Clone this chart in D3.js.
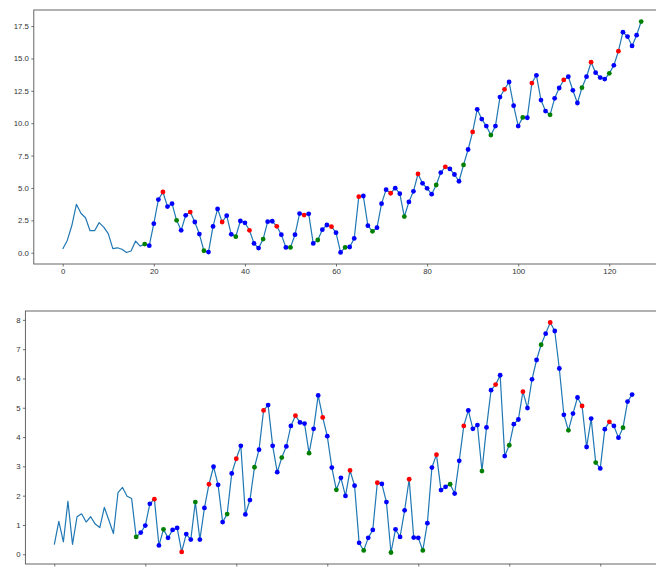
<!DOCTYPE html>
<html>
<head>
<meta charset="utf-8">
<script src="https://cdn.jsdelivr.net/npm/d3@7"></script>
<style>
  body { margin: 0; background: #fff; }
  svg { display: block; }
</style>
</head>
<body>
<script>
// values, index = x position
const topValues = [
  0.28, 0.95, 2.1, 3.74, 3.05, 2.7, 1.7, 1.7, 2.32, 1.98,
  1.47, 0.31, 0.38, 0.27, 0.02, 0.13, 0.9, 0.51, 0.67, 0.54,
  2.24, 4.1, 4.69, 3.56, 3.79, 2.5, 1.73, 2.89, 3.14, 2.37,
  1.44, 0.15, 0.05, 2.03, 3.38, 2.37, 2.86, 1.42, 1.24, 2.45,
  2.31, 1.73, 0.72, 0.36, 1.05, 2.4, 2.43, 2.04, 1.39, 0.41,
  0.41, 1.39, 3.02, 2.91, 3.0, 0.72, 0.98, 1.78, 2.14, 2.01,
  1.55, 0.02, 0.41, 0.44, 1.1, 4.33, 4.38, 2.09, 1.65, 1.93,
  3.79, 4.87, 4.59, 4.98, 4.56, 2.79, 3.92, 4.74, 6.08, 5.36,
  4.97, 4.52, 5.23, 6.19, 6.63, 6.47, 6.04, 5.52, 6.78, 7.97,
  9.33, 11.07, 10.32, 9.78, 9.08, 9.78, 12.02, 12.62, 13.18, 11.35,
  9.78, 10.45, 10.42, 13.1, 13.7, 11.79, 10.94, 10.65, 11.92, 12.72,
  13.34, 13.59, 12.54, 11.56, 12.74, 13.59, 14.71, 13.9, 13.52, 13.41,
  13.85, 14.47, 15.56, 17.03, 16.69, 15.97, 16.8, 17.85
];
const bottomValues = [
  0.33, 1.12, 0.42, 1.81, 0.34, 1.28, 1.38, 1.1, 1.28, 1.03,
  0.91, 1.6, 1.16, 0.71, 2.1, 2.28, 1.98, 1.9, 0.59, 0.74,
  0.98, 1.72, 1.88, 0.3, 0.85, 0.56, 0.83, 0.9, 0.08, 0.69,
  0.5, 1.78, 0.5, 1.58, 2.39, 2.99, 2.37, 1.1, 1.37, 2.76,
  3.26, 3.7, 1.36, 1.85, 2.97, 3.57, 4.91, 5.09, 3.7, 2.8,
  3.3, 3.68, 4.38, 4.73, 4.5, 4.46, 3.45, 4.28, 5.42, 4.67,
  4.03, 2.96, 2.2, 2.61, 1.99, 2.86, 2.34, 0.39, 0.13, 0.56,
  0.83, 2.44, 2.4, 1.78, 0.06, 0.85, 0.59, 1.5, 2.56, 0.57,
  0.56, 0.13, 1.06, 2.96, 3.4, 2.19, 2.3, 2.39, 2.07, 3.19,
  4.38, 4.91, 4.28, 4.41, 2.84, 4.33, 5.6, 5.79, 6.11, 3.35,
  3.72, 4.44, 4.6, 5.55, 4.99, 5.97, 6.63, 7.15, 7.53, 7.91,
  7.62, 6.34, 4.76, 4.23, 4.8, 5.35, 5.06, 3.66, 4.63, 3.13,
  2.93, 4.27, 4.52, 4.38, 3.98, 4.32, 5.21, 5.45
];
const markStart = 18; // first index that gets a dot
const topRed = [22, 28, 35, 41, 47, 53, 59, 65, 72, 78, 84, 90, 97, 103, 110, 116, 122];
const topGreen = [18, 25, 31, 38, 44, 50, 56, 62, 68, 75, 82, 88, 94, 101, 107, 114, 120, 127];
const bottomRed = [22, 28, 34, 40, 46, 53, 59, 65, 71, 78, 84, 90, 97, 103, 109, 116, 122];
const bottomGreen = [18, 24, 31, 38, 44, 50, 56, 62, 68, 74, 81, 87, 94, 100, 107, 113, 119, 125];
const xTicks = [0, 20, 40, 60, 80, 100, 120];
const topYTicks = [0, 2.5, 5, 7.5, 10, 12.5, 15, 17.5];
const bottomYTicks = [0, 1, 2, 3, 4, 5, 6, 7, 8];

const svgWidth = 656;
const svgHeight = 570;
const fontSize = 7.8;

const svg = d3.select("body").append("svg")
            .attr("width", svgWidth)
            .attr("height", svgHeight)
            .style("font-family", "'DejaVu Sans', sans-serif");

// panel boxes (right side runs past the picture, like the original crop)
// bottom panel's x labels fall below the picture, so only the tick marks show
drawPanel(topValues, topRed, topGreen, topYTicks, d3.format(".1f"), true,
          {left: 33.8, right: 670.1, top: 10, bottom: 264});
drawPanel(bottomValues, bottomRed, bottomGreen, bottomYTicks, d3.format("d"), false,
          {left: 25.4, right: 661, top: 311, bottom: 564});

function padded(lo, hi) { // matplotlib style 5% margins
  let m = (hi - lo) * 0.05;
  return [lo - m, hi + m];
}

function drawPanel(values, reds, greens, yTicks, yFmt, xLabels, box) {
  let xScale = d3.scaleLinear().domain(padded(0, values.length - 1)).range([box.left, box.right]);
  let yScale = d3.scaleLinear().domain(padded(d3.min(values), d3.max(values))).range([box.bottom, box.top]);

  let g = svg.append("g");

  let xAxis = d3.axisBottom(xScale).tickValues(xTicks).tickSizeOuter(0).tickSize(2.5).tickPadding(2.4);
  if (!xLabels) xAxis.tickFormat(() => "");
  let yAxis = d3.axisLeft(yScale).tickValues(yTicks).tickFormat(yFmt).tickSizeOuter(0).tickSize(2.5).tickPadding(2.4);

  let gx = g.append("g")
     .attr("transform", "translate(0," + box.bottom + ")")
     .call(xAxis);
  let gy = g.append("g")
     .attr("transform", "translate(" + box.left + ",0)")
     .call(yAxis);
  [gx, gy].forEach(a => {
    a.select(".domain").remove();
    a.selectAll("line").attr("stroke", "#333").attr("stroke-width", 0.7);
    a.selectAll("text").attr("fill", "#333").style("font-size", fontSize + "px");
  });
  if (!xLabels) gx.selectAll("text").remove();

  // line through all points
  const line = d3.line()
               .x((d, i) => xScale(i))
               .y(d => yScale(d));
  g.append("path")
   .datum(values)
   .attr("d", line)
   .attr("fill", "none")
   .attr("stroke", "#1f77b4")
   .attr("stroke-width", 1.2)
   .attr("stroke-linejoin", "round");

  let pts = values.map((v, i) => ({i: i, v: v}))
                  .filter(d => d.i >= markStart);
  g.selectAll("circle.dot")
   .data(pts)
   .enter().append("circle")
   .attr("class", "dot")
   .attr("cx", d => xScale(d.i))
   .attr("cy", d => yScale(d.v))
   .attr("r", 2.4)
   .attr("fill", d => reds.includes(d.i) ? "red" : (greens.includes(d.i) ? "green" : "blue"));

  // frame
  g.append("rect")
   .attr("x", box.left)
   .attr("y", box.top)
   .attr("width", box.right - box.left)
   .attr("height", box.bottom - box.top)
   .attr("fill", "none")
   .attr("stroke", "#555")
   .attr("stroke-width", 0.9);
}
</script>
</body>
</html>
